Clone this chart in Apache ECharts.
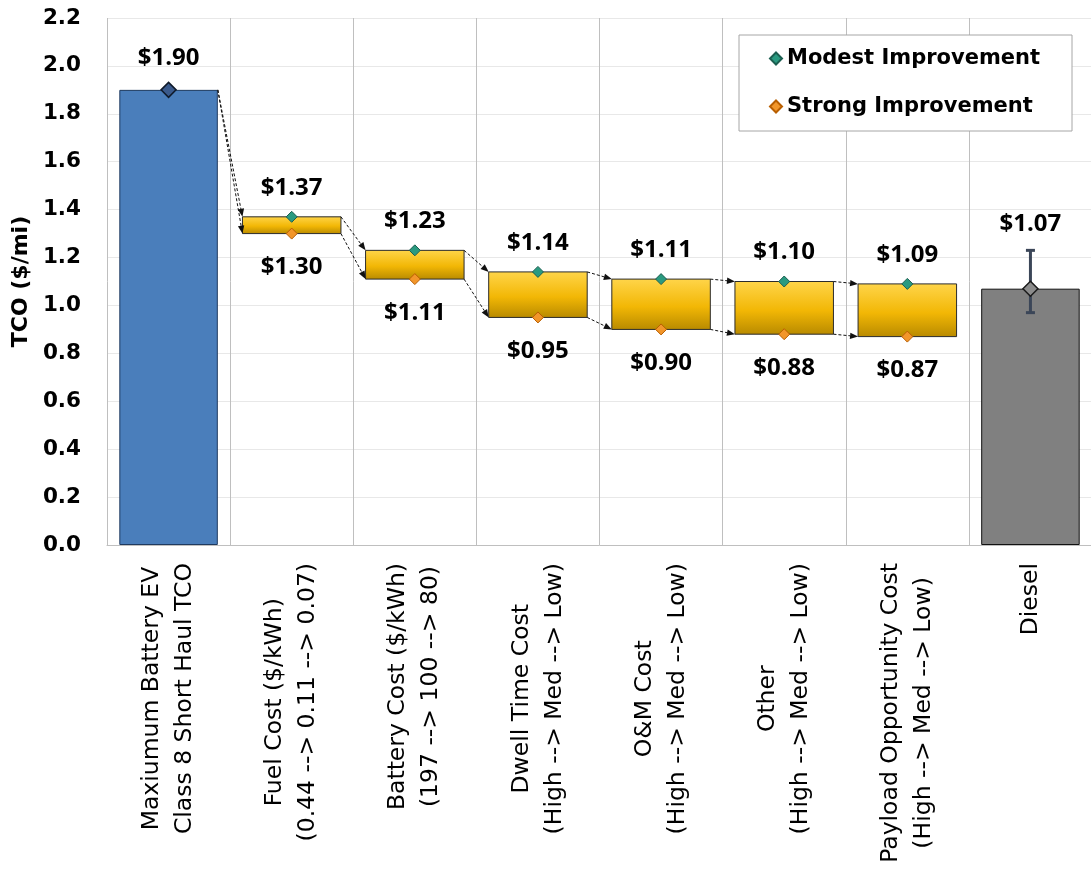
<!DOCTYPE html>
<html><head><meta charset="utf-8">
<script src="https://cdn.jsdelivr.net/npm/echarts@6/dist/echarts.min.js"></script>
<style>html,body{margin:0;padding:0;background:#fff}#c{width:1091px;height:873px}</style>
</head><body><div id="c"></div>
<script>
// ---- data ----
const categories = [
  'Maxiumum Battery EV\nClass 8 Short Haul TCO',
  'Fuel Cost ($/kWh)\n(0.44 --> 0.11 --> 0.07)',
  'Battery Cost ($/kWh)\n(197 --> 100 --> 80)',
  'Dwell Time Cost\n(High --> Med --> Low)',
  'O&M Cost\n(High --> Med --> Low)',
  'Other\n(High --> Med --> Low)',
  'Payload Opportunity Cost\n(High --> Med --> Low)',
  'Diesel'
];
const evBaseline = [1.90, null, null, null, null, null, null, null];
const modest = [null, 1.37, 1.23, 1.14, 1.11, 1.10, 1.09, null];
const strong = [null, 1.30, 1.11, 0.95, 0.90, 0.88, 0.87, null];
const diesel = [null, null, null, null, null, null, null, 1.07];
const dieselLow = [null, null, null, null, null, null, null, 0.97];
const dieselHigh = [null, null, null, null, null, null, null, 1.23];
const yTicks = { min: 0, max: 2.2, step: 0.2 };

// ---- derived ----
const FONT = 'DejaVu Sans';
const LFONT = 'Open Sans';
const upperVals = categories.map((c, i) => evBaseline[i] != null ? evBaseline[i] : modest[i]);
const lowerVals = categories.map((c, i) => evBaseline[i] != null ? evBaseline[i] : strong[i]);
const connectors = [];
for (let i = 0; i < categories.length - 1; i++) {
  if (upperVals[i] != null && upperVals[i + 1] != null) {
    connectors.push([i, upperVals[i], i + 1, upperVals[i + 1]]);
    connectors.push([i, lowerVals[i], i + 1, lowerVals[i + 1]]);
  }
}
const boxes = [];
modest.forEach((v, i) => { if (v != null) boxes.push([i, strong[i], v]); });
const errData = [];
diesel.forEach((v, i) => { if (v != null) errData.push([i, dieselLow[i], dieselHigh[i]]); });
const toPts = arr => arr.map((v, i) => v == null ? null : [i, v]).filter(Boolean);
const money = p => '$' + p.value[1].toFixed(2);
const barData = arr => arr.map(v => v == null ? '-' : v);

const chart = echarts.init(document.getElementById('c'), null, { renderer: 'canvas' });
const goldFill = () => new echarts.graphic.LinearGradient(0, 0, 0, 1, [
  { offset: 0, color: '#FFD54A' },
  { offset: 0.55, color: '#F2B705' },
  { offset: 1, color: '#B88A00' }
]);
const labelStyle = { fontFamily: LFONT, fontWeight: 'bold', fontSize: 24, color: '#000' };

chart.setOption({
  animation: false,
  backgroundColor: '#fff',
  textStyle: { fontFamily: FONT },
  grid: { left: 107, right: -1, top: 18, bottom: 328, containLabel: false, outerBoundsMode: 'none' },
  legend: {
    data: ['Modest Improvement', 'Strong Improvement'],
    orient: 'vertical', left: 739, top: 35,
    padding: [13, 32, 14, 30], itemGap: 27, itemWidth: 12, itemHeight: 12,
    backgroundColor: '#fff', borderColor: '#A6A6A6', borderWidth: 1,
    textStyle: { fontFamily: FONT, fontWeight: 'bold', fontSize: 21, color: '#000' }
  },
  xAxis: {
    type: 'category', data: categories, boundaryGap: true,
    axisLine: { show: true, lineStyle: { color: '#BFBFBF', width: 1 } },
    axisTick: { show: false },
    splitLine: { show: true, interval: 0, lineStyle: { color: '#BFBFBF', width: 1 } },
    axisLabel: {
      interval: 0, rotate: 90, margin: 18,
      formatter: v => v.split('\n').map(l => '{c|' + l + '}').join('\n'),
      rich: { c: { align: 'center', fontFamily: FONT, fontSize: 23.5, lineHeight: 33, color: '#000' } }
    }
  },
  yAxis: {
    type: 'value', min: yTicks.min, max: yTicks.max, interval: yTicks.step,
    name: 'TCO ($/mi)', nameLocation: 'middle', nameGap: 74,
    nameTextStyle: { fontFamily: FONT, fontWeight: 'bold', fontSize: 22, color: '#000' },
    axisLine: { show: false }, axisTick: { show: false },
    splitLine: { lineStyle: { color: '#E8E8E8', width: 1 } },
    axisLabel: { margin: 26, fontFamily: FONT, fontWeight: 'bold', fontSize: 21.5, color: '#000',
      formatter: v => v.toFixed(1) }
  },
  series: [
    { name: 'EV', type: 'bar', data: barData(evBaseline), barWidth: '80%', barGap: '-100%',
      itemStyle: { color: '#4A7EBB', borderColor: '#1F3A60', borderWidth: 1 }, z: 2 },
    { name: 'Diesel', type: 'bar', data: barData(diesel), barWidth: '80%', barGap: '-100%',
      itemStyle: { color: '#808080', borderColor: '#111', borderWidth: 1 }, z: 2 },
    { name: 'Range', type: 'custom', data: boxes, encode: { x: 0, y: [1, 2] }, z: 3,
      renderItem: (params, api) => {
        const x = api.value(0), lo = api.value(1), hi = api.value(2);
        const p1 = api.coord([x, hi]), p2 = api.coord([x, lo]);
        const bw = api.size([1, 0])[0] * 0.8;
        return { type: 'rect', shape: { x: p1[0] - bw / 2, y: p1[1], width: bw, height: p2[1] - p1[1] },
          style: { fill: goldFill(), stroke: '#2B2B2B', lineWidth: 1 } };
      } },
    { name: 'Connectors', type: 'custom', data: connectors, encode: { x: [0, 2], y: [1, 3] }, z: 4,
      renderItem: (params, api) => {
        const bw = api.size([1, 0])[0] * 0.8;
        const a = api.coord([api.value(0), api.value(1)]);
        const b = api.coord([api.value(2), api.value(3)]);
        const x1 = a[0] + bw / 2, y1 = a[1], x2 = b[0] - bw / 2, y2 = b[1];
        const dx = x2 - x1, dy = y2 - y1, len = Math.sqrt(dx * dx + dy * dy);
        const ux = dx / len, uy = dy / len, L = 8, W = 3.2;
        const bx = x2 - ux * L, by = y2 - uy * L;
        return { type: 'group', children: [
          { type: 'line', shape: { x1: x1, y1: y1, x2: bx, y2: by },
            style: { stroke: '#111', lineWidth: 1, lineDash: [3, 2] } },
          { type: 'polygon', shape: { points: [[x2, y2], [bx - uy * W, by + ux * W], [bx + uy * W, by - ux * W]] },
            style: { fill: '#111' } }
        ] };
      } },
    { name: 'ErrorBar', type: 'custom', data: errData, encode: { x: 0, y: [1, 2] }, z: 5,
      renderItem: (params, api) => {
        const x = api.value(0);
        const lo = api.coord([x, api.value(1)]), hi = api.coord([x, api.value(2)]);
        const c = 4.5;
        const st = { stroke: '#3B4658', lineWidth: 3 };
        return { type: 'group', children: [
          { type: 'line', shape: { x1: lo[0], y1: lo[1], x2: hi[0], y2: hi[1] }, style: st },
          { type: 'line', shape: { x1: lo[0] - c, y1: lo[1], x2: lo[0] + c, y2: lo[1] }, style: st },
          { type: 'line', shape: { x1: hi[0] - c, y1: hi[1], x2: hi[0] + c, y2: hi[1] }, style: st }
        ] };
      } },
    { name: 'Modest Improvement', type: 'scatter', data: toPts(modest), symbol: 'diamond', symbolSize: 11, z: 6,
      itemStyle: { color: '#2A9A80', borderColor: '#1C5E50', borderWidth: 1, opacity: 1 },
      label: Object.assign({ show: true, position: 'top', distance: 11, formatter: money }, labelStyle) },
    { name: 'Strong Improvement', type: 'scatter', data: toPts(strong), symbol: 'diamond', symbolSize: 11, z: 6,
      itemStyle: { color: '#F2962A', borderColor: '#B85E00', borderWidth: 1, opacity: 1 },
      label: Object.assign({ show: true, position: 'bottom', distance: 16, formatter: money }, labelStyle) },
    { name: 'EV marker', type: 'scatter', data: toPts(evBaseline), symbol: 'diamond', symbolSize: 15, z: 6,
      itemStyle: { color: '#3A5A8C', borderColor: '#0F1A2A', borderWidth: 1.5, opacity: 1 },
      label: Object.assign({ show: true, position: 'top', distance: 11, formatter: money }, labelStyle) },
    { name: 'Diesel marker', type: 'scatter', data: toPts(diesel), symbol: 'diamond', symbolSize: 15, z: 6,
      itemStyle: { color: '#8C8C8C', borderColor: '#1A1A1A', borderWidth: 1.5, opacity: 1 },
      label: Object.assign({ show: true, position: 'top', distance: 44, formatter: money }, labelStyle) }
  ]
});
</script>
</body></html>
